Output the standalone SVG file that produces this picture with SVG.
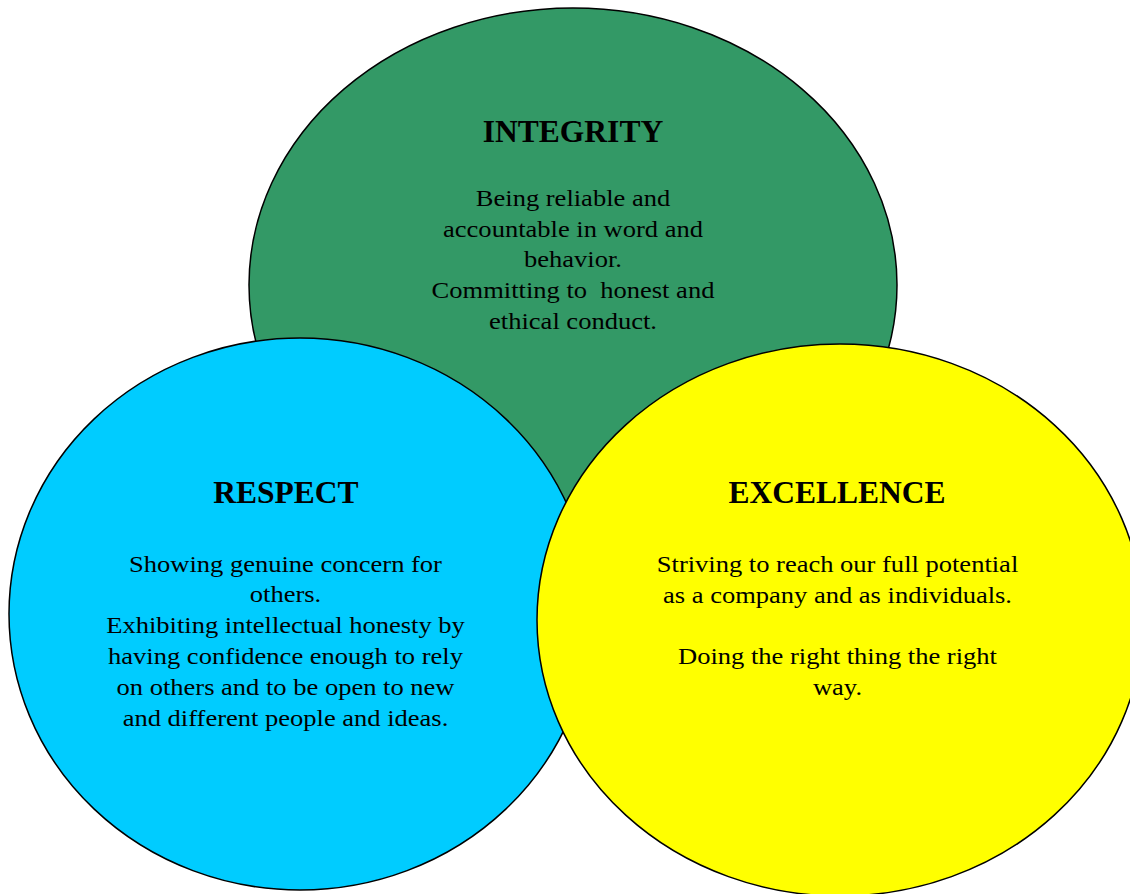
<svg xmlns="http://www.w3.org/2000/svg" width="1130" height="894" viewBox="0 0 1130 894">
<style>
.c{stroke:#000;stroke-width:1.5}
.t{font-family:"Liberation Serif","Times New Roman",serif;font-weight:bold;font-size:31.5px;text-anchor:middle;fill:#000}
.b{font-family:"Liberation Serif","Times New Roman",serif;font-size:24px;text-anchor:middle;fill:#000}
</style>
<rect width="1130" height="894" fill="#fff"/>
<g id="integrity">
<ellipse class="c" cx="573" cy="285" rx="324" ry="277" fill="#339966"/>
<text class="t" x="573" y="142">INTEGRITY</text>
<g transform="translate(573,0) scale(1.105,1)">
<text class="b" x="0" y="206">Being reliable and</text>
<text class="b" x="0" y="237">accountable in word and</text>
<text class="b" x="0" y="267">behavior.</text>
<text class="b" x="0" y="298">Committing to&#160; honest and</text>
<text class="b" x="0" y="329">ethical conduct.</text>
</g>
</g>
<g id="respect">
<ellipse class="c" cx="300" cy="614" rx="291" ry="276" fill="#00CCFF"/>
<text class="t" x="286" y="503">RESPECT</text>
<g transform="translate(285.5,0) scale(1.105,1)">
<text class="b" x="0" y="572">Showing genuine concern for</text>
<text class="b" x="0" y="602">others.</text>
<text class="b" x="0" y="633">Exhibiting intellectual honesty by</text>
<text class="b" x="0" y="664">having confidence enough to rely</text>
<text class="b" x="0" y="695">on others and to be open to new</text>
<text class="b" x="0" y="726">and different people and ideas.</text>
</g>
</g>
<g id="excellence">
<ellipse class="c" cx="840" cy="620" rx="303" ry="276" fill="#FFFF00"/>
<text class="t" x="837" y="503">EXCELLENCE</text>
<g transform="translate(837.5,0) scale(1.105,1)">
<text class="b" x="0" y="572">Striving to reach our full potential</text>
<text class="b" x="0" y="603">as a company and as individuals.</text>
<text class="b" x="0" y="664">Doing the right thing the right</text>
<text class="b" x="0" y="695">way.</text>
</g>
</g>
<g id="connectors"></g>
</svg>
